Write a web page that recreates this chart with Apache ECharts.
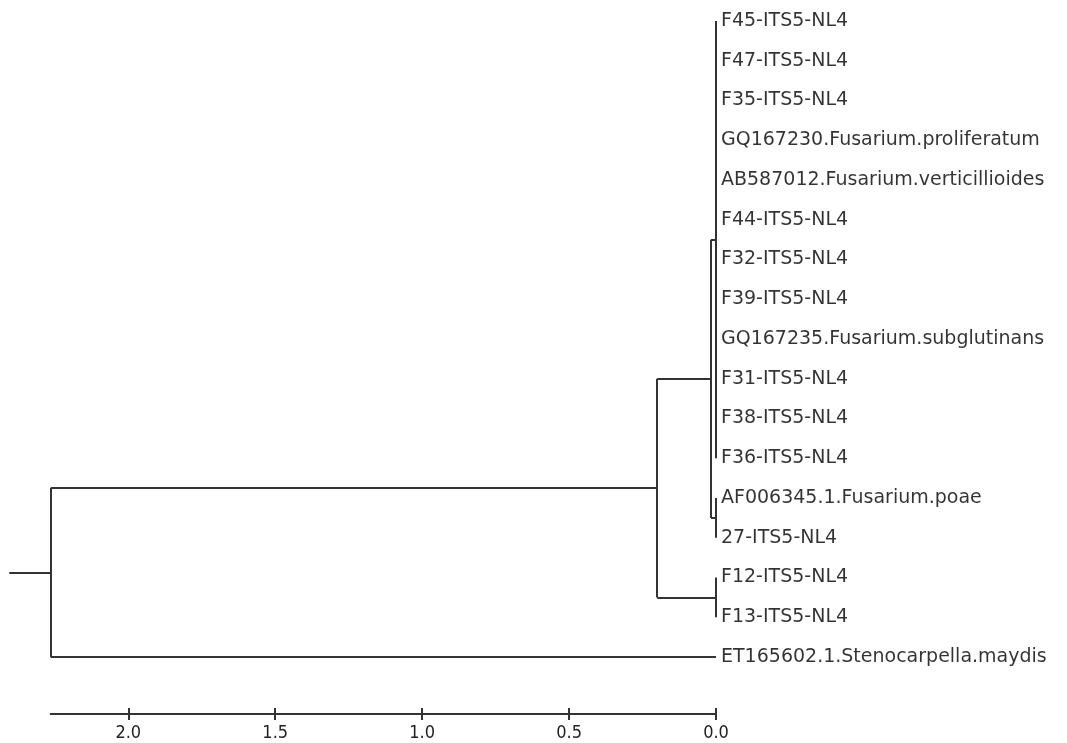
<!DOCTYPE html>
<html>
<head>
<meta charset="utf-8">
<title>Dendrogram</title>
<script src="https://cdn.jsdelivr.net/npm/echarts@6/dist/echarts.min.js"></script>
<style>
  html, body { margin: 0; padding: 0; background: #fff; }
  #tree { width: 1067px; height: 743px; }
</style>
</head>
<body>
<div id="tree"></div>
<script>
// leaf labels, top to bottom
const leafNames = [
  'F45-ITS5-NL4',
  'F47-ITS5-NL4',
  'F35-ITS5-NL4',
  'GQ167230.Fusarium.proliferatum',
  'AB587012.Fusarium.verticillioides',
  'F44-ITS5-NL4',
  'F32-ITS5-NL4',
  'F39-ITS5-NL4',
  'GQ167235.Fusarium.subglutinans',
  'F31-ITS5-NL4',
  'F38-ITS5-NL4',
  'F36-ITS5-NL4',
  'AF006345.1.Fusarium.poae',
  '27-ITS5-NL4',
  'F12-ITS5-NL4',
  'F13-ITS5-NL4',
  'ET165602.1.Stenocarpella.maydis'
];

// internal nodes: children (leaf index, or 17+ for internal nodes)
const nodeChildren = [
  [0, 1, 2, 3, 4, 5, 6, 7, 8, 9, 10, 11], // 17
  [12, 13],                               // 18
  [17, 18],                               // 19
  [14, 15],                               // 20
  [19, 20],                               // 21
  [21, 16]                                // 22 root
];
// node heights (distance)
const nodeHeights = [0, 0, 0.017, 0, 0.2, 2.264];
const rootStub = 2.405;
const tickValues = [0, 0.5, 1.0, 1.5, 2.0];

const nLeaf = leafNames.length;
const posY = [];
const posX = [];
for (let i = 0; i < nLeaf; i++) { posY.push(i); posX.push(0); }
const segs = [];
nodeChildren.forEach(function (ch, k) {
  const h = nodeHeights[k];
  const ys = ch.map(c => posY[c]);
  const lo = Math.min.apply(null, ys), hi = Math.max.apply(null, ys);
  const y = (lo + hi) / 2;
  posY.push(y);
  posX.push(h);
  segs.push({coords: [[h, lo], [h, hi]]});
  ch.forEach(function (c) {
    if (posX[c] !== h) segs.push({coords: [[h, posY[c]], [posX[c], posY[c]]]});
  });
});
const rootId = posY.length - 1;
segs.push({coords: [[posX[rootId], posY[rootId]], [rootStub, posY[rootId]]]});

let chart = echarts.init(document.getElementById('tree'));
let option = {
  animation: false,
  backgroundColor: '#fff',
  grid: { left: 50.7, right: 351, top: 21, bottom: 86 },
  xAxis: [
    {
      type: 'value',
      inverse: true,
      min: 0,
      max: nodeHeights[nodeHeights.length - 1],
      position: 'bottom',
      offset: 57,
      splitLine: { show: false },
      axisLine: { show: true, onZero: false, lineStyle: { color: '#333', width: 2 } },
      axisTick: { show: true, customValues: tickValues, length: 6, lineStyle: { color: '#333', width: 2 } },
      axisLabel: {
        customValues: tickValues,
        formatter: v => v.toFixed(1),
        margin: 10,
        fontFamily: 'DejaVu Sans Condensed, Liberation Sans Narrow, sans-serif',
        fontSize: 18,
        color: '#222'
      }
    },
    {
      type: 'value',
      inverse: true,
      min: 0,
      max: nodeHeights[nodeHeights.length - 1],
      position: 'bottom',
      offset: 57,
      splitLine: { show: false },
      axisLine: { show: false, onZero: false },
      axisTick: { show: true, inside: true, customValues: tickValues, length: 6, lineStyle: { color: '#333', width: 2 } },
      axisLabel: { show: false }
    }
  ],
  yAxis: {
    type: 'value',
    inverse: true,
    min: 0,
    max: nLeaf - 1,
    show: false
  },
  series: [
    {
      type: 'lines',
      coordinateSystem: 'cartesian2d',
      clip: false,
      silent: true,
      lineStyle: { color: '#333', width: 2, opacity: 1 },
      data: segs
    },
    {
      type: 'scatter',
      symbolSize: 0,
      silent: true,
      data: leafNames.map((n, i) => ({ value: [0, i], name: n })),
      label: {
        show: true,
        position: 'right',
        distance: 5,
        formatter: p => p.name,
        fontFamily: 'DejaVu Sans',
        fontSize: 19,
        color: '#000'
      }
    }
  ]
};
chart.setOption(option);
</script>
</body>
</html>
